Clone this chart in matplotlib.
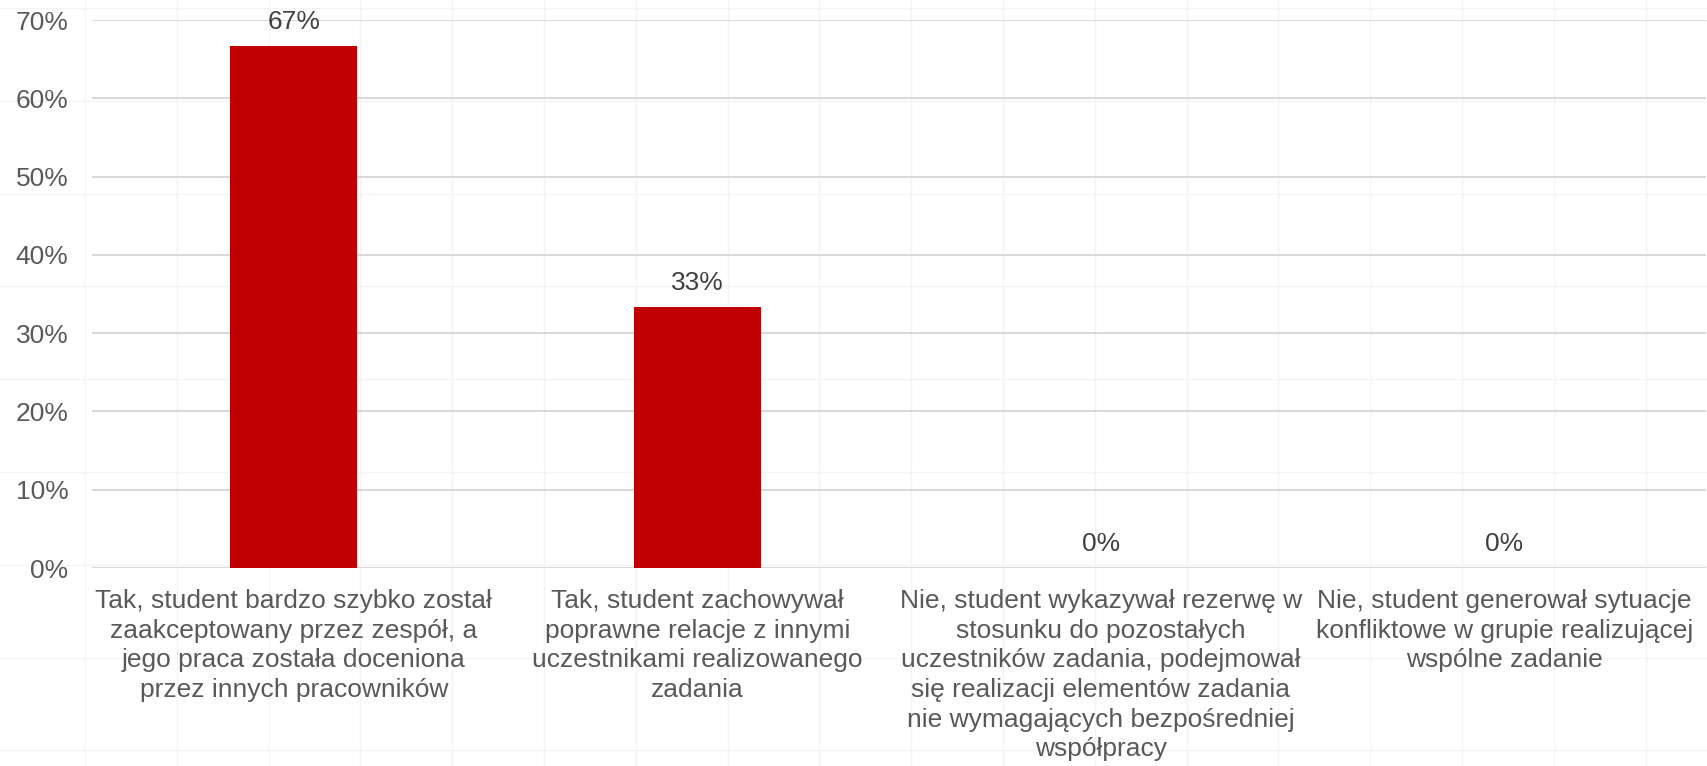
import matplotlib
matplotlib.use("Agg")
import matplotlib.pyplot as plt
from matplotlib.lines import Line2D
from matplotlib.ticker import PercentFormatter

categories = [
    "Tak, student bardzo szybko został\nzaakceptowany przez zespół, a\njego praca została doceniona\nprzez innych pracowników",
    "Tak, student zachowywał\npoprawne relacje z innymi\nuczestnikami realizowanego\nzadania",
    "Nie, student wykazywał rezerwę w\nstosunku do pozostałych\nuczestników zadania, podejmował\nsię realizacji elementów zadania\nnie wymagających bezpośredniej\nwspółpracy",
    "Nie, student generował sytuacje\nkonfliktowe w grupie realizującej\nwspólne zadanie",
]
values = [2 / 3, 1 / 3, 0.0, 0.0]
labels = ["67%", "33%", "0%", "0%"]
yticks = [0, 0.1, 0.2, 0.3, 0.4, 0.5, 0.6, 0.7]

plt.rcParams["font.family"] = ["Liberation Sans", "DejaVu Sans"]

W, H = 1708, 766
fig = plt.figure(figsize=(W / 100, H / 100), dpi=100)

# faint background lattice
for i in range(19):
    x = (85 + 91.8 * i) / W
    fig.add_artist(Line2D([x, x], [0, 1], transform=fig.transFigure,
                          color="#f4f4f4", lw=1, zorder=0))
for j in range(9):
    y = 1 - (8 + 92.8 * j) / H
    fig.add_artist(Line2D([0, 1], [y, y], transform=fig.transFigure,
                          color="#f4f4f4", lw=1, zorder=0))

ax = fig.add_axes([92 / W, 1 - 568 / H, (1706 - 92) / W, (568 - 20) / H])
ax.patch.set_alpha(0)

xs = range(len(categories))
bars = ax.bar(xs, values, width=0.315, color="#c00000", zorder=3)

for b, lab in zip(bars, labels):
    ax.annotate(lab, (b.get_x() + b.get_width() / 2, b.get_height()),
                xytext=(0, 17.5), textcoords="offset points",
                ha="center", va="center", fontsize=19, color="#404040")

ax.set_xlim(-0.5, 3.5)
ax.set_ylim(0, 0.7)
ax.set_yticks(yticks)
ax.yaxis.set_major_formatter(PercentFormatter(1.0, decimals=0))
ax.set_xticks(list(xs))
ax.set_xticklabels(categories, linespacing=1.3)
ax.tick_params(axis="both", length=0, labelsize=19, labelcolor="#595959")
ax.tick_params(axis="y", pad=17)
ax.tick_params(axis="x", pad=15)
ax.grid(axis="y", color="#d9d9d9", lw=1.5, zorder=1)
ax.set_axisbelow(True)
for s in ax.spines.values():
    s.set_visible(False)

fig.savefig("out.png", dpi=100)
